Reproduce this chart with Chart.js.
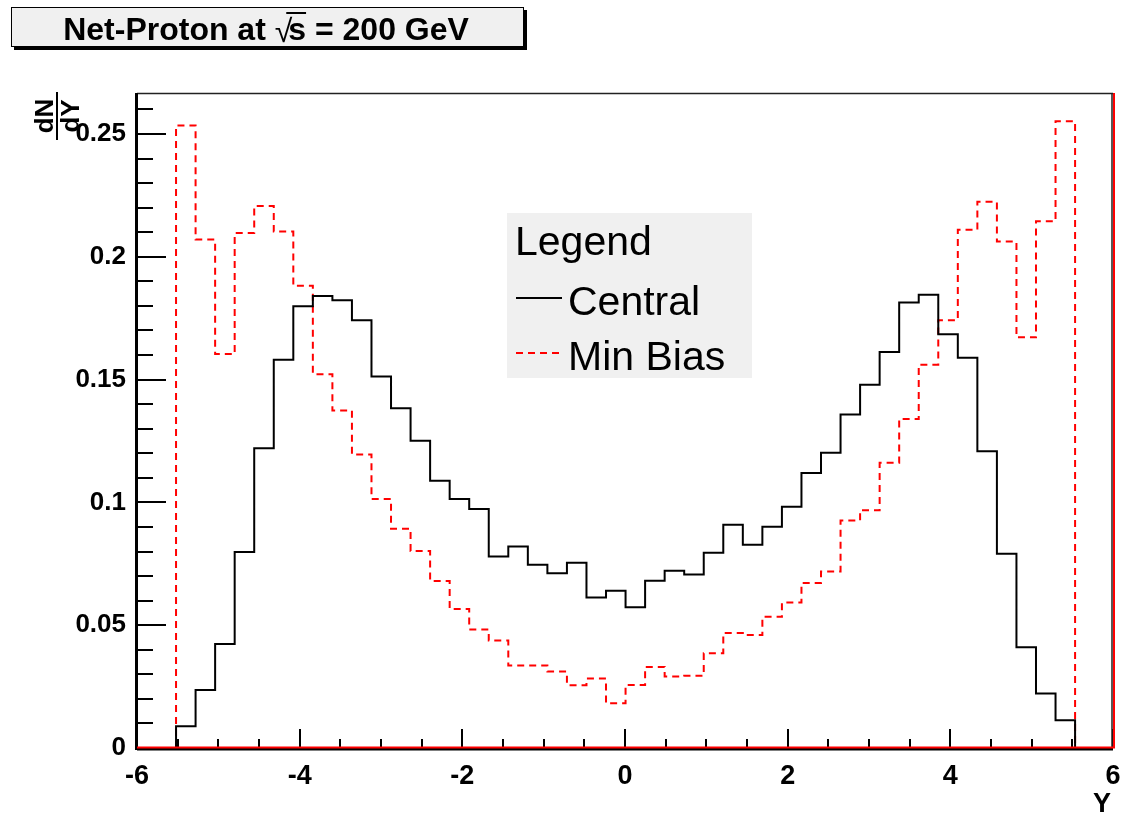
<!DOCTYPE html>
<html>
<head>
<meta charset="utf-8">
<title>Net-Proton dN/dY</title>
<script src="https://cdn.jsdelivr.net/npm/chart.js@4.4.1/dist/chart.umd.min.js"></script>
<style>
  html, body { margin: 0; padding: 0; background: #fff; }
  canvas { display: block; }
</style>
</head>
<body>
<canvas id="chartNetProton" width="1124" height="816"></canvas>
<script>
(function() {
  'use strict';

  // Histogram binning: 46 bins in rapidity
  const HIST_LO = -5.52;
  const BIN_WIDTH = 0.2403;

  // dN/dY per bin, central events
  const central = [
    0.0089, 0.0236, 0.0423, 0.0798, 0.1220, 0.1581, 0.1799, 0.1840, 0.1823, 0.1742,
    0.1513, 0.1383, 0.1251, 0.1088, 0.1014, 0.0973, 0.0780, 0.0820, 0.0746, 0.0712,
    0.0754, 0.0613, 0.0640, 0.0573, 0.0681, 0.0722, 0.0706, 0.0795, 0.0909, 0.0828,
    0.0901, 0.0982, 0.1120, 0.1202, 0.1358, 0.1479, 0.1612, 0.1814, 0.1846, 0.1685,
    0.1589, 0.1208, 0.0791, 0.0410, 0.0222, 0.0113
  ];

  // dN/dY per bin, minimum bias
  const minBias = [
    0.2535, 0.2070, 0.1604, 0.2097, 0.2207, 0.2103, 0.1882, 0.1522, 0.1374, 0.1195,
    0.1014, 0.0893, 0.0802, 0.0680, 0.0566, 0.0483, 0.0438, 0.0336, 0.0336, 0.0311,
    0.0256, 0.0283, 0.0182, 0.0257, 0.0330, 0.0291, 0.0294, 0.0386, 0.0468, 0.0460,
    0.0534, 0.0592, 0.0672, 0.0719, 0.0926, 0.0968, 0.1161, 0.1340, 0.1561, 0.1742,
    0.2110, 0.2224, 0.2062, 0.1672, 0.2145, 0.2552
  ];

  const seriesNames = ['Central', 'Min Bias'];
  const xTicks = [-6, -4, -2, 0, 2, 4, 6];
  const yTicks = [0, 0.05, 0.1, 0.15, 0.2, 0.25];
  const X_MIN = -6, X_MAX = 6;
  const Y_MIN = 0, Y_MAX = 0.2667;

  const FONT = '"Liberation Sans", Arial, Helvetica, sans-serif';

  // Outline of a histogram: up from zero at the low edge, steps, back down at the high edge
  function histPoints(values) {
    const pts = [{ x: HIST_LO, y: 0 }];
    values.forEach((v, i) => pts.push({ x: HIST_LO + i * BIN_WIDTH, y: v }));
    const hi = HIST_LO + values.length * BIN_WIDTH;
    pts.push({ x: hi, y: values[values.length - 1] });
    pts.push({ x: hi, y: 0 });
    return pts;
  }

  // Frame, inward ticks, title box, legend and axis titles
  const rootDecor = {
    id: 'rootDecor',
    beforeDraw(chart) {
      const ctx = chart.ctx;
      ctx.save();
      ctx.fillStyle = '#fff';
      ctx.fillRect(0, 0, chart.width, chart.height);
      ctx.restore();
    },
    afterDraw(chart) {
      const ctx = chart.ctx;
      const a = chart.chartArea;
      const xs = chart.scales.x;
      const ys = chart.scales.y;
      ctx.save();

      // ticks
      ctx.strokeStyle = '#000';
      ctx.lineWidth = 2;
      ctx.beginPath();
      for (let k = 0; k <= 26; k++) {
        const v = k / 100;
        const py = Math.round(ys.getPixelForValue(v));
        const len = (k % 5 === 0) ? 29 : 16;
        ctx.moveTo(a.left, py);
        ctx.lineTo(a.left + len, py);
      }
      for (let k = 0; k <= 24; k++) {
        const v = X_MIN + k * 0.5;
        const px = Math.round(xs.getPixelForValue(v));
        const len = (k % 4 === 0) ? 19 : 9;
        ctx.moveTo(px, a.bottom);
        ctx.lineTo(px, a.bottom - len);
      }
      ctx.stroke();

      // frame
      ctx.lineWidth = 1.5;
      ctx.strokeStyle = '#222';
      ctx.beginPath();
      ctx.moveTo(a.left, a.top + 0.5);
      ctx.lineTo(a.right, a.top + 0.5);
      ctx.moveTo(a.right - 1, a.top);
      ctx.lineTo(a.right - 1, a.bottom);
      ctx.stroke();
      ctx.lineWidth = 3;
      ctx.strokeStyle = '#000';
      ctx.beginPath();
      ctx.moveTo(a.left - 0.5, a.top);
      ctx.lineTo(a.left - 0.5, a.bottom + 2);
      ctx.moveTo(a.left, a.bottom + 1);
      ctx.lineTo(a.right, a.bottom + 1);
      ctx.stroke();
      // red histogram edge along the bottom and right side
      ctx.strokeStyle = '#ff0000';
      ctx.lineWidth = 2;
      ctx.beginPath();
      ctx.moveTo(a.left, a.bottom - 0.5);
      ctx.lineTo(a.right + 2, a.bottom - 0.5);
      ctx.moveTo(a.right + 1, a.bottom);
      ctx.lineTo(a.right + 1, a.top);
      ctx.stroke();

      // title box with shadow
      ctx.fillStyle = '#000';
      ctx.fillRect(14, 10, 513, 40);
      ctx.fillStyle = '#f0f0f0';
      ctx.fillRect(11, 7, 513, 40);
      ctx.strokeStyle = '#000';
      ctx.lineWidth = 1;
      ctx.strokeRect(11.5, 7.5, 512, 39);

      ctx.fillStyle = '#000';
      ctx.font = 'bold 32px ' + FONT;
      ctx.textBaseline = 'alphabetic';
      const parts = ['Net-Proton at ', '\u221A', 's', ' = 200 GeV'];
      const widths = parts.map(p => ctx.measureText(p).width);
      const total = widths.reduce((s, w) => s + w, 0) - 4;
      let tx = 266 - total / 2;
      const base = 40;
      ctx.fillText(parts[0], tx, base); tx += widths[0];
      ctx.font = '32px ' + FONT;
      ctx.fillText(parts[1], tx, base + 2);
      const ovStart = tx + widths[1] - 6;
      tx += widths[1] - 4;
      ctx.font = 'bold 32px ' + FONT;
      ctx.fillText(parts[2], tx, base);
      ctx.fillRect(ovStart, 12, tx + widths[2] - ovStart, 2);
      tx += widths[2];
      ctx.fillText(parts[3], tx, base);

      // legend
      const lg = { x: 507, y: 213, w: 245, h: 165 };
      ctx.fillStyle = '#f0f0f0';
      ctx.fillRect(lg.x, lg.y, lg.w, lg.h);
      ctx.fillStyle = '#000';
      ctx.font = '41px ' + FONT;
      ctx.fillText('Legend', lg.x + 8, lg.y + 42);
      const rows = [lg.y + 102, lg.y + 157];
      chart.data.datasets.forEach((ds, i) => {
        const ly = rows[i];
        ctx.save();
        ctx.strokeStyle = ds.borderColor;
        ctx.lineWidth = ds.borderWidth;
        ctx.setLineDash(ds.borderDash || []);
        ctx.beginPath();
        ctx.moveTo(lg.x + 9, ly - 17);
        ctx.lineTo(lg.x + 55, ly - 17);
        ctx.stroke();
        ctx.restore();
        ctx.fillText(ds.label, lg.x + 61, ly);
      });

      // y axis title: dN/dY as a rotated fraction
      ctx.save();
      ctx.translate(57, 116);
      ctx.rotate(-Math.PI / 2);
      ctx.font = 'bold 26px ' + FONT;
      ctx.textAlign = 'center';
      ctx.fillText('dN', 0, -4);
      ctx.fillText('dY', 0, 22);
      ctx.fillRect(-24, -1, 48, 2);
      ctx.restore();

      // x axis title
      ctx.font = 'bold 27px ' + FONT;
      ctx.textAlign = 'right';
      ctx.fillText('Y', a.right - 2, 812);

      ctx.restore();
    }
  };

  function init() {
    const canvas = document.getElementById('chartNetProton');
    const ctx = canvas.getContext('2d');

    new Chart(ctx, {
      type: 'line',
      data: {
        datasets: [
          {
            label: seriesNames[0],
            data: histPoints(central),
            borderColor: '#000000',
            borderWidth: 2,
            stepped: 'before',
            pointRadius: 0,
            fill: false
          },
          {
            label: seriesNames[1],
            data: histPoints(minBias),
            borderColor: '#ff0000',
            borderWidth: 2,
            borderDash: [7, 5],
            stepped: 'before',
            pointRadius: 0,
            fill: false
          }
        ]
      },
      options: {
        responsive: false,
        animation: false,
        events: [],
        devicePixelRatio: 1,
        layout: { padding: { left: 0, top: 93, right: 11, bottom: 0 } },
        plugins: {
          legend: { display: false },
          tooltip: { enabled: false },
          title: { display: false }
        },
        scales: {
          x: {
            type: 'linear',
            min: X_MIN,
            max: X_MAX,
            afterBuildTicks: s => { s.ticks = xTicks.map(v => ({ value: v })); },
            afterFit: s => { s.height = 68; s.paddingLeft = 0; s.paddingRight = 0; },
            grid: { display: false, drawTicks: false },
            border: { display: false },
            ticks: {
              color: '#000',
              padding: 12,
              maxRotation: 0,
              font: { family: FONT, size: 27, weight: 'bold' },
              callback: v => String(v)
            }
          },
          y: {
            type: 'linear',
            min: Y_MIN,
            max: Y_MAX,
            afterBuildTicks: s => { s.ticks = yTicks.map(v => ({ value: v })); },
            afterFit: s => { s.width = 137; s.paddingTop = 0; s.paddingBottom = 0; },
            grid: { display: false, drawTicks: false },
            border: { display: false },
            ticks: {
              color: '#000',
              padding: 11,
              font: { family: FONT, size: 26, weight: 'bold' },
              callback: v => String(+v.toFixed(2))
            }
          }
        }
      },
      plugins: [rootDecor]
    });
  }

  if (document.readyState === 'loading') {
    document.addEventListener('DOMContentLoaded', init);
  } else {
    init();
  }
})();
</script>
</body>
</html>
